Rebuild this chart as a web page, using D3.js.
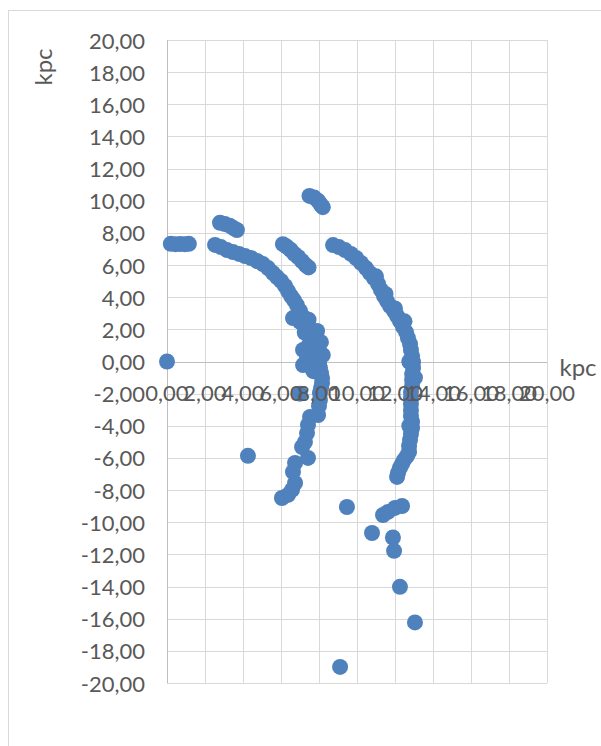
<!DOCTYPE html>
<html>
<head>
<meta charset="utf-8">
<script src="https://cdn.jsdelivr.net/npm/d3@7"></script>
<style>
  html, body { margin: 0; padding: 0; background: #ffffff; }
  svg { display: block; }
  text { font-family: Lato, "Open Sans", "Liberation Sans", sans-serif; fill: #595959; }
</style>
</head>
<body>
<svg id="chart" width="601" height="746"></svg>
<script>
// Axis ticks (kpc)
const xTicks = [0, 2, 4, 6, 8, 10, 12, 14, 16, 18, 20];
const yTicks = [-20, -18, -16, -14, -12, -10, -8, -6, -4, -2, 0, 2, 4, 6, 8, 10, 12, 14, 16, 18, 20];
const fmt = v => v.toFixed(2).replace(".", ",");

// Positions in kpc, grouped by structure
const origin = [[0, 0]];

const nearClump = [[0.2, 7.32], [0.45, 7.3], [0.7, 7.31], [0.95, 7.3], [1.15, 7.32]];

const upperLeftSpur = [[2.79, 8.63], [3.05, 8.55], [3.3, 8.45], [3.5, 8.3], [3.68, 8.18]];

const innerArm = [
  [2.53, 7.25], [2.84, 7.12], [3.16, 6.93], [3.47, 6.81], [3.79, 6.69], [4.11, 6.56],
  [4.42, 6.44], [4.74, 6.25], [5.05, 6.06], [5.32, 5.81], [5.58, 5.5], [5.79, 5.25],
  [6.0, 5.01], [6.21, 4.7], [6.37, 4.38], [6.53, 4.07], [6.68, 3.82], [6.84, 3.51],
  [7.0, 3.14], [7.16, 2.77], [7.32, 2.39], [7.42, 2.08], [7.53, 1.77], [7.68, 1.46],
  [7.79, 1.15], [7.84, 0.84], [7.89, 0.53], [7.95, 0.22], [8.0, -0.09], [8.05, -0.4],
  [8.11, -0.72], [8.16, -1.03], [8.16, -1.34], [8.11, -1.65], [8.05, -1.96], [8.05, -2.39],
  [8.0, -2.77], [6.63, 2.7], [7.0, 2.46], [7.47, 1.03], [7.16, 0.72], [7.16, -0.22],
  [7.37, 0.3], [6.99, -2.0], [7.25, 1.8], [7.9, 1.9], [8.1, 1.2], [8.2, 0.4],
  [7.6, 0.0], [7.7, -0.6], [7.45, 2.6]
];

const innerArmSouth = [
  [7.95, -3.33], [7.53, -3.45], [7.42, -3.95], [7.37, -4.45], [7.26, -5.01], [7.11, -5.32],
  [7.42, -6.0], [6.74, -6.31], [6.63, -6.87], [6.74, -7.56], [6.58, -7.99], [6.37, -8.3],
  [6.05, -8.49]
];

const midSpur = [[6.1, 7.3], [6.3, 7.15], [6.5, 6.95], [6.7, 6.7], [6.9, 6.5], [7.1, 6.25], [7.3, 6.0], [7.45, 5.85]];

const topSpur = [[7.5, 10.3], [7.75, 10.2], [7.95, 10.0], [8.1, 9.75], [8.2, 9.6]];

const outerArm = [
  [8.74, 7.24], [9.05, 7.12], [9.37, 6.93], [9.68, 6.69], [9.95, 6.44], [10.21, 6.13],
  [10.47, 5.81], [10.68, 5.5], [10.89, 5.19], [11.11, 4.82], [11.26, 4.45], [11.42, 4.07],
  [11.58, 3.76], [11.74, 3.45], [11.95, 3.14], [12.11, 2.83], [12.26, 2.52], [12.42, 2.15],
  [12.58, 1.83], [12.68, 1.46], [12.79, 1.09], [12.84, 0.72], [12.9, 0.34], [12.95, -0.03],
  [12.95, -0.4], [12.9, -0.78], [12.9, -1.15], [12.9, -1.52], [12.84, -1.9], [12.84, -2.27],
  [12.84, -2.64], [12.84, -3.02], [12.84, -3.39], [12.9, -3.76], [12.9, -4.14], [12.84, -4.51],
  [12.79, -4.88], [12.74, -5.25], [12.74, -5.63], [12.63, -5.88], [12.47, -6.13], [12.37, -6.37],
  [12.26, -6.62], [12.16, -6.93], [12.11, -7.18], [11.0, 5.3], [11.5, 4.2], [12.0, 3.3],
  [12.5, 2.5], [12.75, 0.0], [13.05, -1.0], [12.75, -4.0]
];

const scattered = [
  [4.26, -5.87], [9.47, -9.05], [11.37, -9.55], [11.63, -9.36], [12.0, -9.11], [12.37, -8.99],
  [10.79, -10.67], [11.89, -10.95], [11.95, -11.78], [12.26, -14.02], [13.05, -16.23], [9.11, -19.0]
];

const points = [].concat(origin, nearClump, upperLeftSpur, innerArm, innerArmSouth,
  midSpur, topSpur, outerArm, scattered);

const svg = d3.select("#chart");

// Chart frame
svg.append("rect")
  .attr("x", 8.5).attr("y", 10.5)
  .attr("width", 700).attr("height", 800)
  .attr("fill", "none").attr("stroke", "#d9d9d9").attr("stroke-width", 1);

const x = d3.scaleLinear().domain([0, 20]).range([167, 547]);
const y = d3.scaleLinear().domain([-20, 20]).range([683, 40]);

// Gridlines
const grid = svg.append("g").attr("stroke", "#d9d9d9").attr("stroke-width", 1);
grid.selectAll("line.v").data(xTicks).join("line")
  .attr("class", "v")
  .attr("x1", d => Math.round(x(d)) + 0.5).attr("x2", d => Math.round(x(d)) + 0.5)
  .attr("y1", y(20)).attr("y2", y(-20));
grid.selectAll("line.h").data(yTicks).join("line")
  .attr("class", "h")
  .attr("x1", x(0)).attr("x2", x(20))
  .attr("y1", d => Math.round(y(d)) + 0.5).attr("y2", d => Math.round(y(d)) + 0.5);

// Axis lines
svg.append("line")
  .attr("x1", Math.round(x(0)) + 0.5).attr("x2", Math.round(x(0)) + 0.5)
  .attr("y1", y(20)).attr("y2", y(-20))
  .attr("stroke", "#bfbfbf");
svg.append("line")
  .attr("x1", x(0)).attr("x2", x(20))
  .attr("y1", Math.round(y(0)) + 0.5).attr("y2", Math.round(y(0)) + 0.5)
  .attr("stroke", "#bfbfbf");

// Markers
svg.append("g").selectAll("circle").data(points).join("circle")
  .attr("cx", d => x(d[0]))
  .attr("cy", d => y(d[1]))
  .attr("r", 8)
  .attr("fill", "#4f81bd");

// Tick labels
svg.append("g").selectAll("text").data(yTicks).join("text")
  .attr("x", 145)
  .attr("y", d => y(d))
  .attr("text-anchor", "end")
  .attr("dominant-baseline", "central")
  .style("font-size", "22px")
  .text(fmt);

svg.append("g").selectAll("text").data(xTicks).join("text")
  .attr("x", d => x(d))
  .attr("y", y(0) + 31)
  .attr("text-anchor", "middle")
  .attr("dominant-baseline", "central")
  .style("font-size", "22px")
  .text(fmt);

// Axis titles
svg.append("text")
  .attr("transform", "translate(42,67) rotate(-90)")
  .attr("text-anchor", "middle")
  .attr("dominant-baseline", "central")
  .style("font-size", "24px")
  .text("kpc");

svg.append("text")
  .attr("x", 578).attr("y", 366)
  .attr("text-anchor", "middle")
  .attr("dominant-baseline", "central")
  .style("font-size", "24px")
  .text("kpc");
</script>
</body>
</html>
